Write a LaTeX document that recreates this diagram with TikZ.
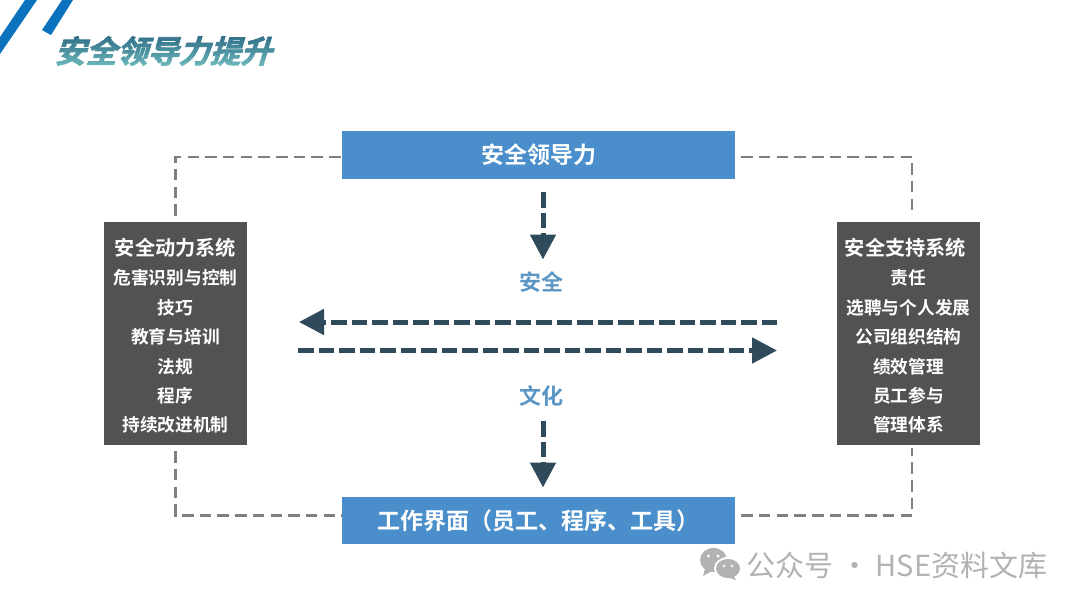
\documentclass[tikz,border=0pt]{standalone}
\usepackage{fontspec}
\setmainfont{Noto Sans CJK SC}
\newfontfamily\titlefont[FakeSlant=0.3,FakeBold=2.5]{Noto Sans CJK SC Bold}
\newfontfamily\boldcjk{Noto Sans CJK SC Bold}
\usetikzlibrary{arrows.meta}
\definecolor{bluebox}{HTML}{4A8FCC}
\definecolor{darkbox}{HTML}{525252}
\definecolor{arrowc}{HTML}{2F4A5A}
\definecolor{dashc}{HTML}{7F7F7F}
\definecolor{labelc}{HTML}{5B96C4}
\definecolor{stripe}{HTML}{0B72BD}
\definecolor{titlec}{HTML}{2E6B85}
\definecolor{titlescreen}{HTML}{52917A}
\definecolor{markc}{HTML}{B2B2B2}
\tikzset{
  bluenode/.style={fill=bluebox,text=white,minimum width=393pt,inner sep=0pt,font=\boldcjk\fontsize{23}{27}\selectfont},
  sidenode/.style={fill=darkbox,text=white,minimum width=143pt,minimum height=223pt,inner sep=0pt,align=center,font=\boldcjk\fontsize{17.7}{29.4}\selectfont},
  greydash/.style={draw=dashc,line width=2.4pt,dash pattern=on 11.5pt off 6.2pt},
  flowarrow/.style={draw=arrowc,line width=5pt,dash pattern=on 15.5pt off 5pt,-{Triangle[length=25pt,width=25pt]}},
  midlabel/.style={text=labelc,inner sep=0pt,font=\boldcjk\fontsize{22}{26}\selectfont},
  stripeshape/.style={fill=stripe,draw=none},
  iconshape/.style={fill=markc,draw=none},
  eye/.style={fill=white,draw=none}
}
\begin{document}
\begin{tikzpicture}[x=1pt,y=-1pt]
\useasboundingbox (0,0) rectangle (1080,608);
\fill[white] (0,0) rectangle (1080,608);
% corner stripes
\path[stripeshape] (25,0) -- (37,0) -- (0,54) -- (0,37) -- cycle;
\path[stripeshape] (62,0) -- (73,0) -- (51,35) -- (42,30) -- cycle;
\node[text=titlec,inner sep=0pt,anchor=center,font=\titlefont\fontsize{31}{36}\selectfont] (title) at (163,51) {安全领导力提升};
\shade[blend mode=screen,top color=black,bottom color=titlescreen,middle color=titlescreen!45!black] (45,34) rectangle (285,68);
% boxes
\node[bluenode,minimum height=48pt] (top) at (538.5,155) {安全领导力};
\node[bluenode,minimum height=47pt] (bottom) at (538.5,520.5) {工作界面（员工、程序、工具）};
\node[sidenode] (left) at (175.5,333.5) {\rule{0pt}{22pt}{\fontsize{20.2}{29.4}\selectfont 安全动力系统}\\危害识别与控制\\技巧\\教育与培训\\法规\\程序\\持续改进机制};
\node[sidenode] (right) at (908.5,333.5) {\rule{0pt}{22pt}{\fontsize{20.2}{29.4}\selectfont 安全支持系统}\hspace*{6pt}\\责任\\选聘与个人发展\\公司组织结构\\绩效管理\\员工参与\\管理体系};
% grey dashed frame
\draw[greydash] ([yshift=6pt]left.north) |- ([yshift=-2pt]top.west);
\draw[greydash] ([xshift=6pt,yshift=-2pt]top.east) -| ([xshift=3.5pt,yshift=6pt]right.north);
\draw[greydash] ([yshift=-6pt]left.south) |- ([yshift=5pt]bottom.west);
\draw[greydash] ([xshift=6pt,yshift=5pt]bottom.east) -| ([xshift=3.5pt,yshift=-3pt]right.south);
% flow
\coordinate (a1s) at (543,192); \coordinate (a1e) at (543,259.5);
\coordinate (a2s) at (543,421); \coordinate (a2e) at (543,487.5);
\coordinate (h1s) at (777,322); \coordinate (h1e) at (299,322);
\coordinate (h2s) at (298,350.5); \coordinate (h2e) at (777,350.5);
\draw[flowarrow] (a1s) -- (a1e);
\draw[flowarrow] (a2s) -- (a2e);
\draw[flowarrow] (h1s) -- (h1e);
\draw[flowarrow] (h2s) -- (h2e);
\node[midlabel] (safe) at (541.5,282) {安全};
\node[midlabel] (culture) at (541.5,396) {文化};
% watermark
\path[iconshape] (713.5,560) ellipse (13.5pt and 12pt);
\path[iconshape] (705,569) -- (703,576) -- (712,571) -- cycle;
\fill[white] (728,568.5) ellipse (14pt and 11.5pt);
\path[iconshape] (728,568.5) ellipse (12pt and 9.5pt);
\path[iconshape] (733,575) -- (736,580) -- (727,577) -- cycle;
\path[eye] (708.5,556) circle (1.7pt) (718,556) circle (1.7pt) (724,566) circle (1.4pt) (732,566) circle (1.4pt);
\node[text=markc,inner sep=0pt,font=\fontsize{29}{33}\selectfont] (mark) at (897,565) {公众号 · HSE资料文库};
\end{tikzpicture}
\end{document}
